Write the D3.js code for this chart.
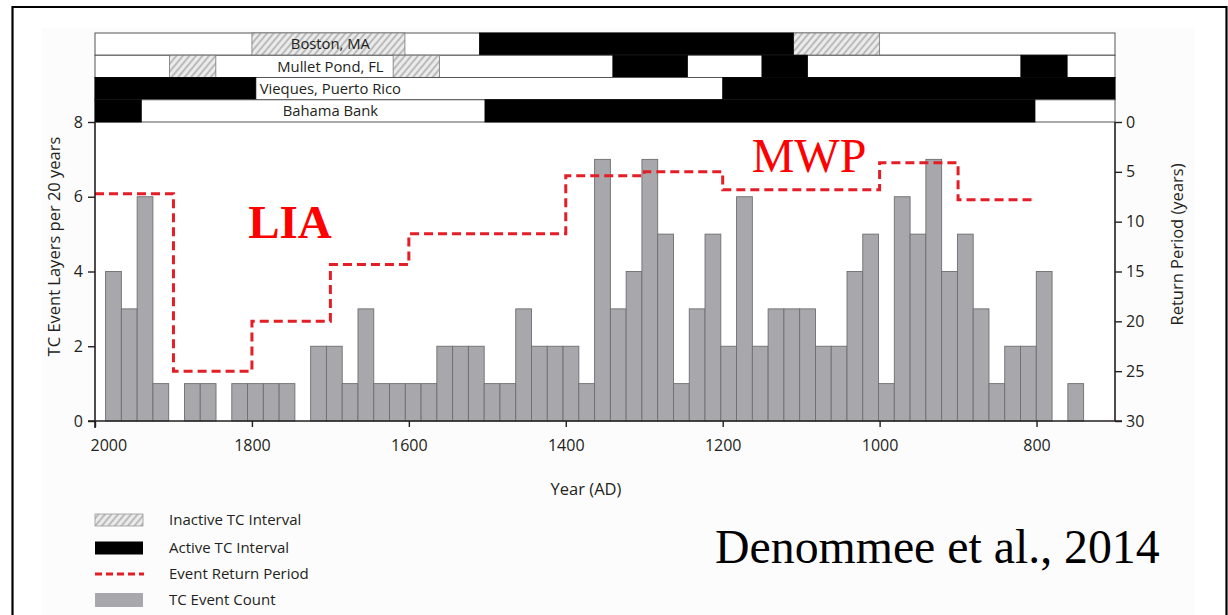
<!DOCTYPE html>
<html><head><meta charset="utf-8">
<script src="https://cdn.jsdelivr.net/npm/d3@7"></script>
<style>
body{margin:0;background:#fff}
svg{display:block}
text{font-family:"Open Sans",sans-serif;fill:#231f20}
</style>
</head><body>
<svg id="c" width="1228" height="615"></svg>
<script>
// ---------- DATA ----------
// nominal 20-year bins (upper edge years), most recent first
const binYears = d3.range(1980, 759, -20);
const eventCounts = [4,3,6,1,0,1,1,0,1,1,1,1,0,2,2,1,3,1,1,1,1,2,2,2,1,1,3,2,2,2,1,7,3,4,7,5,1,3,5,2,6,2,3,3,3,2,2,4,5,1,6,5,7,4,5,3,1,2,2,4,0,1];
// event return period (years), step function starting at each year
const stepYears = [2000,1900,1800,1700,1600,1400,1300,1200,1000,900,800];
const returnPeriods = [7.2,25,20,14.3,11.2,5.4,5.0,6.8,4.1,7.8,7.8];
const xTicks = [2000,1800,1600,1400,1200,1000,800];
const yTicksLeft = [0,2,4,6,8];
const yTicksRight = [0,5,10,15,20,25,30];
const sites = ["Boston, MA","Mullet Pond, FL","Vieques, Puerto Rico","Bahama Bank"];
const bostonActive = [[1510,1110]];
const bostonInactive = [[1800,1605],[1110,1000]];
const mulletActive = [[1340,1245],[1150,1092],[820,761]];
const mulletInactive = [[1905,1846],[1620,1561]];
const viequesActive = [[2000,1795],[1200,700]];
const viequesInactive = [];
const bahamaActive = [[2000,1941],[1503,802]];
const bahamaInactive = [];
const legendLabels = ["Inactive TC Interval","Active TC Interval","Event Return Period","TC Event Count"];

// ---------- SETUP ----------
const svg = d3.select("#c");
const defs = svg.append("defs");
const pat = defs.append("pattern").attr("id","hatch").attr("patternUnits","userSpaceOnUse")
  .attr("width",5).attr("height",5).attr("patternTransform","rotate(40)");
pat.append("rect").attr("width",5).attr("height",5).attr("fill","#ebebeb");
pat.append("line").attr("x1",1).attr("y1",0).attr("x2",1).attr("y2",5).attr("stroke","#8c8c8c").attr("stroke-width",1);

// outer frame
svg.append("rect").attr("x",42).attr("y",28).attr("width",1153).attr("height",600).attr("fill","#fcfcfc");
svg.append("path").attr("d","M12.5,620 L12.5,7 L1226.5,7 L1226.5,620").attr("fill","none").attr("stroke","#000").attr("stroke-width",2.2);

const x = d3.scaleLinear().domain([2000,700]).range([95,1115]);
const y = d3.scaleLinear().domain([0,8]).range([421,122]);
const yR = d3.scaleLinear().domain([0,30]).range([122,421]);
const xb = d3.scaleBand().domain(binYears).range([x(1986.5), x(740)]).paddingInner(0);

// white plot background
svg.append("rect").attr("x",x(2000)).attr("y",y(8)).attr("width",x(700)-x(2000)).attr("height",y(0)-y(8)).attr("fill","#fff");

// ---------- SITE ROWS ----------
const rowY = d3.scaleBand().domain(sites).range([33,122]);
const siteActive = [bostonActive, mulletActive, viequesActive, bahamaActive];
const siteInactive = [bostonInactive, mulletInactive, viequesInactive, bahamaInactive];
const rows = svg.append("g");
sites.forEach((s,i)=>{
  const g = rows.append("g");
  const y0 = rowY(s), h = rowY.bandwidth();
  g.append("rect").attr("x",x(2000)).attr("y",y0).attr("width",x(700)-x(2000)).attr("height",h)
    .attr("fill","#fff").attr("stroke","#555").attr("stroke-width",1);
  g.selectAll(".in").data(siteInactive[i]).join("rect")
    .attr("x",d=>x(d[0])).attr("y",y0).attr("width",d=>x(d[1])-x(d[0])).attr("height",h)
    .attr("fill","url(#hatch)").attr("stroke","#777").attr("stroke-width",0.8);
  g.selectAll(".ac").data(siteActive[i]).join("rect")
    .attr("x",d=>x(d[0])).attr("y",y0).attr("width",d=>x(d[1])-x(d[0])).attr("height",h)
    .attr("fill","#000").attr("stroke","#000").attr("stroke-width",0.8);
  g.append("text").attr("x",x(1700)).attr("y",y0+h/2).attr("dy","0.36em").attr("text-anchor","middle")
    .attr("font-size",14.8).text(s);
});

// ---------- BARS ----------
svg.append("g").selectAll("rect").data(binYears.map((b,i)=>({b,v:eventCounts[i]})).filter(d=>d.v>0)).join("rect")
  .attr("x",d=>xb(d.b)).attr("width",xb.bandwidth()).attr("y",d=>y(d.v)).attr("height",d=>y(0)-y(d.v))
  .attr("fill","#a8a8ac").attr("stroke","#6e6e72").attr("stroke-width",0.9);

// ---------- STEP LINE ----------
const stepLine = d3.line().x(d=>x(d[0])).y(d=>yR(d[1])).curve(d3.curveStepAfter);
svg.append("path").datum(stepYears.map((yr,i)=>[yr,returnPeriods[i]]))
  .attr("d",stepLine).attr("fill","none").attr("stroke","#e31e26").attr("stroke-width",3)
  .attr("stroke-dasharray","9,5");

// ---------- AXES ----------
const axisCol = "#231f20";
// left axis
const gL = svg.append("g").attr("transform",`translate(${x(2000)},0)`)
  .call(d3.axisLeft(y).tickValues(yTicksLeft).tickSize(7).tickPadding(5));
gL.select(".domain").remove();
gL.selectAll("line").attr("stroke",axisCol).attr("stroke-width",1.4);
gL.selectAll("text").attr("font-size",16).attr("font-family","Open Sans").attr("fill",axisCol);
svg.append("line").attr("x1",x(2000)).attr("x2",x(2000)).attr("y1",y(8)).attr("y2",428).attr("stroke",axisCol).attr("stroke-width",1.6);
// right axis
const gR = svg.append("g").attr("transform",`translate(${x(700)},0)`)
  .call(d3.axisRight(yR).tickValues(yTicksRight).tickSize(7).tickPadding(4));
gR.select(".domain").remove();
gR.selectAll("line").attr("stroke",axisCol).attr("stroke-width",1.4);
gR.selectAll("text").attr("font-size",16).attr("font-family","Open Sans").attr("fill",axisCol);
svg.append("line").attr("x1",x(700)).attr("x2",x(700)).attr("y1",y(8)).attr("y2",y(0)).attr("stroke",axisCol).attr("stroke-width",1.6);
// bottom axis
const gB = svg.append("g").attr("transform",`translate(0,${y(0)})`)
  .call(d3.axisBottom(x).tickValues(xTicks).tickFormat(d3.format("d")).tickSize(6).tickPadding(13));
gB.select(".domain").remove();
gB.selectAll("line").attr("stroke",axisCol).attr("stroke-width",1.4);
gB.selectAll("text").attr("font-size",16).attr("font-family","Open Sans").attr("fill",axisCol);
gB.selectAll(".tick").filter(d=>d===2000).select("text").attr("text-anchor","start").attr("dx",-5);
svg.append("line").attr("x1",x(2000)-7).attr("x2",x(700)+7).attr("y1",y(0)).attr("y2",y(0)).attr("stroke",axisCol).attr("stroke-width",1.6);

// titles
svg.append("text").attr("transform",`translate(60,${(y(0)+y(8))/2-25}) rotate(-90)`).attr("text-anchor","middle")
  .attr("font-size",16.5).text("TC Event Layers per 20 years");
svg.append("text").attr("transform",`translate(1183,${(y(0)+y(8))/2-27}) rotate(-90)`).attr("text-anchor","middle")
  .attr("font-size",16.5).text("Return Period (years)");
svg.append("text").attr("x",586).attr("y",495).attr("text-anchor","middle").attr("font-size",16.5).text("Year (AD)");

// ---------- ANNOTATIONS ----------
svg.append("text").attr("x",290).attr("y",238).attr("text-anchor","middle")
  .style("font-family","'Liberation Serif','Times New Roman',serif").style("fill","#ff0000")
  .attr("font-weight","bold").attr("font-size",47).text("LIA");
svg.append("text").attr("x",809).attr("y",172).attr("text-anchor","middle")
  .style("font-family","'Liberation Serif','Times New Roman',serif").style("fill","#ff0000")
  .attr("font-size",48).text("MWP");
svg.append("text").attr("x",715).attr("y",563)
  .style("font-family","'Liberation Serif','Times New Roman',serif").style("fill","#000")
  .attr("font-size",47.8).text("Denommee et al., 2014");

// ---------- LEGEND ----------
const lg = svg.append("g");
const ly = [520,548,574,600];
lg.append("rect").attr("x",95).attr("y",ly[0]-6).attr("width",48).attr("height",12).attr("fill","url(#hatch)").attr("stroke","#999").attr("stroke-width",0.8);
lg.append("rect").attr("x",95).attr("y",ly[1]-6.5).attr("width",48).attr("height",13).attr("fill","#000");
lg.append("line").attr("x1",95).attr("x2",144).attr("y1",ly[2]).attr("y2",ly[2]).attr("stroke","#e31e26").attr("stroke-width",3).attr("stroke-dasharray","7,4");
lg.append("rect").attr("x",95).attr("y",ly[3]-7).attr("width",48).attr("height",14).attr("fill","#a8a8ac");
legendLabels.forEach((t,i)=>{
  lg.append("text").attr("x",169).attr("y",ly[i]).attr("dy","0.35em").attr("font-size",15).text(t);
});
</script>
</body></html>
